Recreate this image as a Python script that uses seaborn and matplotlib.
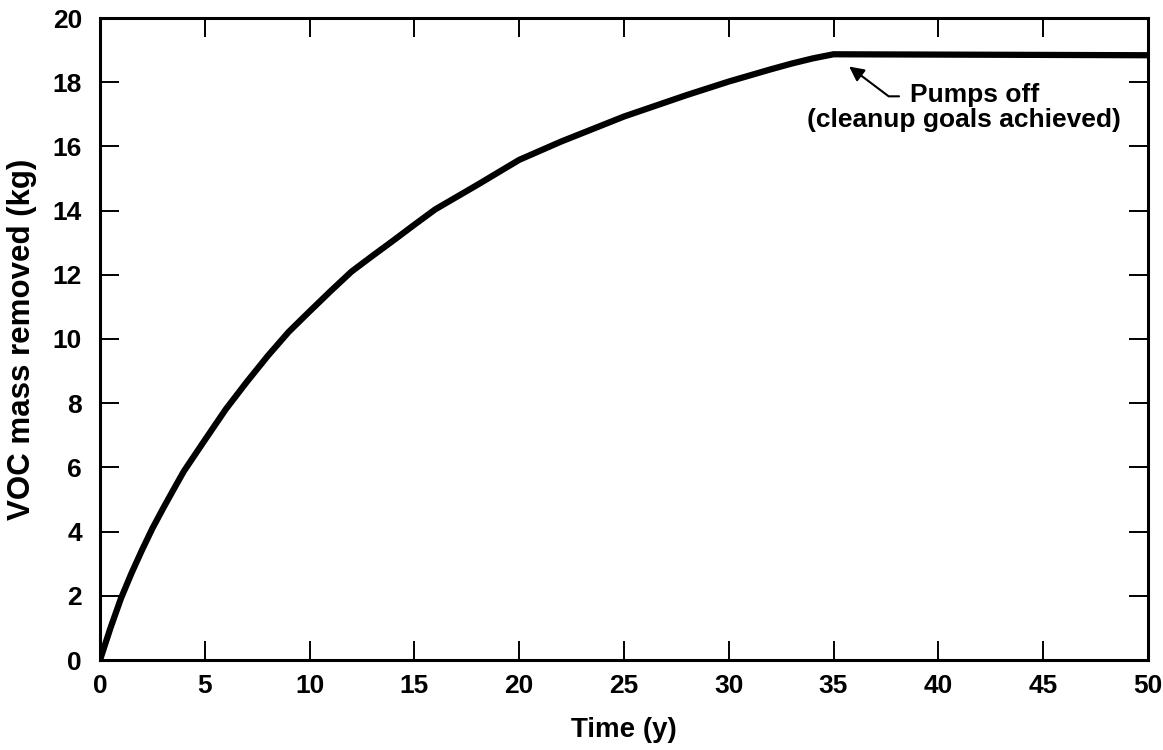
import pandas as pd
import matplotlib.pyplot as plt
import seaborn as sns

# Values
years = [0, 0.5, 1, 1.5, 2, 2.5, 3, 3.5, 4, 5, 6, 7, 8, 9, 10, 11, 12, 13, 14, 15, 16, 18, 20,
         22, 25, 28, 30, 32, 33, 34, 35, 40, 45, 50]
mass_kg = [0, 1.0, 1.92, 2.7, 3.42, 4.1, 4.71, 5.3, 5.88, 6.85, 7.81, 8.66, 9.47, 10.22, 10.86,
           11.49, 12.1, 12.59, 13.07, 13.56, 14.04, 14.8, 15.58, 16.15, 16.93, 17.6, 18.02,
           18.4, 18.58, 18.74, 18.87, 18.86, 18.85, 18.84]
x_ticks = [0, 5, 10, 15, 20, 25, 30, 35, 40, 45, 50]
y_ticks = [0, 2, 4, 6, 8, 10, 12, 14, 16, 18, 20]

df = pd.DataFrame({"Time": years, "Mass": mass_kg})

sns.set_style("ticks")
plt.rcParams["font.family"] = ["Liberation Sans", "DejaVu Sans"]
plt.rcParams["font.weight"] = "bold"
plt.rcParams["text.color"] = "black"
plt.rcParams["axes.labelcolor"] = "black"

fig = plt.figure(figsize=(11.63, 7.5), dpi=100)
ax = fig.add_axes([0.086, 0.12, 0.901, 0.856])

sns.lineplot(data=df, x="Time", y="Mass", color="black", linewidth=4.5, ax=ax)
for ln in ax.get_lines():
    ln.set_solid_joinstyle("round")
    ln.set_solid_capstyle("round")

ax.set_xlim(0, 50)
ax.set_ylim(0, 20)
ax.set_xticks(x_ticks)
ax.set_yticks(y_ticks)
ax.tick_params(direction="in", length=14, width=1.4, top=True, right=True,
               labelsize=19, colors="black")
ax.tick_params(axis="x", pad=10)
ax.tick_params(axis="y", pad=13)
for lbl in ax.get_xticklabels() + ax.get_yticklabels():
    lbl.set_fontweight("bold")
for side in ax.spines.values():
    side.set_linewidth(2.2)
    side.set_color("black")

ax.set_xlabel("Time (y)", fontsize=20, fontweight="bold", labelpad=14)
ax.set_ylabel("VOC mass removed (kg)", fontsize=22.5, fontweight="bold", labelpad=11)

# Annotation arrow and label
ax.annotate("", xy=(35.64, 18.54), xytext=(38.26, 17.56),
            arrowprops=dict(arrowstyle="-|>", color="black", lw=1.5,
                            mutation_scale=22,
                            connectionstyle="angle,angleA=0,angleB=-37,rad=0"))
ax.text(38.65, 17.6, "Pumps off", ha="left", va="center",
        fontsize=19, fontweight="bold")
ax.text(41.22, 16.82, "(cleanup goals achieved)", ha="center", va="center",
        fontsize=19, fontweight="bold")

plt.savefig("out.png", dpi=100)
